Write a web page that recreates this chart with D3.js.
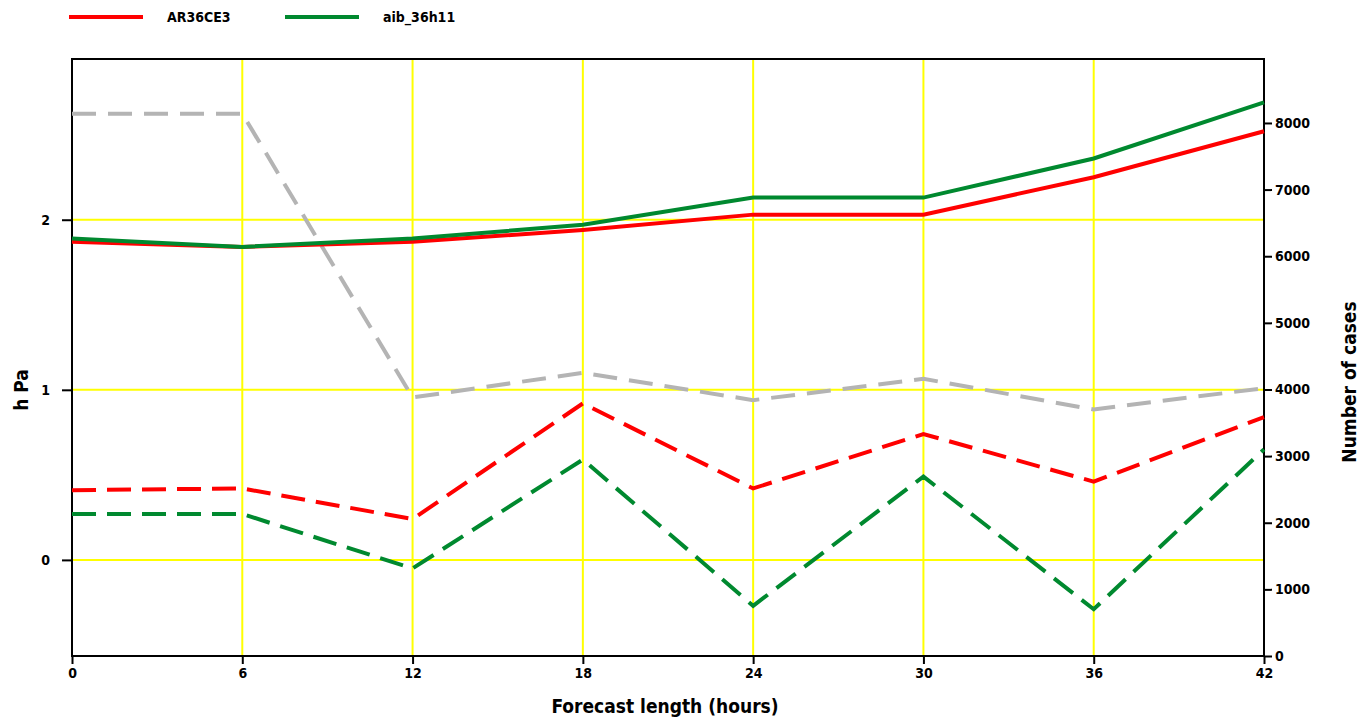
<!DOCTYPE html>
<html><head><meta charset="utf-8">
<script src="https://cdn.jsdelivr.net/npm/d3@7"></script>
<style>
body{margin:0;background:#fff;}
text{font-family:"DejaVu Sans Condensed","DejaVu Sans",sans-serif;font-weight:bold;fill:#000;}
</style></head><body>
<svg id="c" width="1362" height="718"></svg>
<script>
const hours = [0, 6, 12, 18, 24, 30, 36, 42];
const xTickLabels = ["0","6","12","18","24","30","36","42"];
const leftTicks = [0, 1, 2];
const rightTicks = [0,1000,2000,3000,4000,5000,6000,7000,8000];
const seriesNames = ["AR36CE3", "aib_36h11"];
const ar36ce3Rms  = [1.87, 1.84, 1.87, 1.94, 2.03, 2.03, 2.25, 2.52];
const aib36h11Rms = [1.89, 1.84, 1.89, 1.97, 2.13, 2.13, 2.36, 2.69];
const ar36ce3Bias  = [0.41, 0.42, 0.24, 0.92, 0.42, 0.74, 0.46, 0.84];
const aib36h11Bias = [0.27, 0.27, -0.05, 0.59, -0.27, 0.49, -0.29, 0.65];
const numCases = [8140, 8140, 3880, 4250, 3840, 4160, 3700, 4020];

const svg = d3.select("#c");
const L = 72, R = 1264, T = 59, B = 656;
const x = d3.scaleLinear().domain([0, 42]).range([L, R]);
const y = d3.scaleLinear().domain([-0.565, 2.945]).range([B, T]);
const y2 = d3.scaleLinear().domain([0, 8960]).range([B, T]);

const red = "#ff0000", green = "#00892f", grey = "#b4b4b4", yellow = "#ffff00";

// grid
const g = svg.append("g");
g.selectAll(".vg").data(hours.slice(1, -1)).join("line")
  .attr("x1", d => x(d)).attr("x2", d => x(d)).attr("y1", T).attr("y2", B)
  .attr("stroke", yellow).attr("stroke-width", 2);
g.selectAll(".hg").data(leftTicks).join("line")
  .attr("x1", L).attr("x2", R).attr("y1", d => y(d)).attr("y2", d => y(d))
  .attr("stroke", yellow).attr("stroke-width", 2);

// frame
svg.append("rect").attr("x", L).attr("y", T).attr("width", R - L).attr("height", B - T)
  .attr("fill", "none").attr("stroke", "#000").attr("stroke-width", 2);

// axes
const axB = svg.append("g").attr("transform", `translate(0,${B})`)
  .call(d3.axisBottom(x).tickValues(hours).tickFormat((d, i) => xTickLabels[i]).tickSize(8).tickPadding(4));
const axL = svg.append("g").attr("transform", `translate(${L},0)`)
  .call(d3.axisLeft(y).tickValues(leftTicks).tickFormat(d3.format("d")).tickSize(10).tickPadding(12));
const axR = svg.append("g").attr("transform", `translate(${R},0)`)
  .call(d3.axisRight(y2).tickValues(rightTicks).tickFormat(d3.format("d")).tickSize(8).tickPadding(3));
[axB, axL, axR].forEach(a => {
  a.select(".domain").remove();
  a.selectAll("line").attr("stroke", "#000").attr("stroke-width", 2);
  a.selectAll("text").style("font-size", "14px").style("font-family", "'DejaVu Sans Condensed',sans-serif").style("font-weight", "bold");
});

// lines
const line = arr => d3.line().x((d, i) => x(hours[i])).y(d => y(d))(arr);
const line2 = arr => d3.line().x((d, i) => x(hours[i])).y(d => y2(d))(arr);
const draw = (d, col, dash) => svg.append("path").attr("d", d).attr("fill", "none")
  .attr("stroke", col).attr("stroke-width", 4).attr("stroke-dasharray", dash || null);

draw(line2(numCases), grey, "24,12");
draw(line(ar36ce3Bias), red, "24,11");
draw(line(aib36h11Bias), green, "24,11");
draw(line(ar36ce3Rms), red);
draw(line(aib36h11Rms), green);

// axis titles
svg.append("text").attr("x", 665).attr("y", 713).attr("text-anchor", "middle")
  .style("font-size", "19px").text("Forecast length (hours)");
svg.append("text").attr("transform", "translate(28,390) rotate(-90)").attr("text-anchor", "middle")
  .style("font-size", "19px").text("h Pa");
svg.append("text").attr("transform", "translate(1356,382) rotate(-90)").attr("text-anchor", "middle")
  .style("font-size", "19px").text("Number of cases");

// legend
const leg = [{n: seriesNames[0], c: red, x: 69}, {n: seriesNames[1], c: green, x: 285}];
leg.forEach(l => {
  svg.append("line").attr("x1", l.x).attr("x2", l.x + 74).attr("y1", 17).attr("y2", 17)
    .attr("stroke", l.c).attr("stroke-width", 4);
  svg.append("text").attr("x", l.x + 98).attr("y", 22).style("font-size", "14px").text(l.n);
});
</script></body></html>
